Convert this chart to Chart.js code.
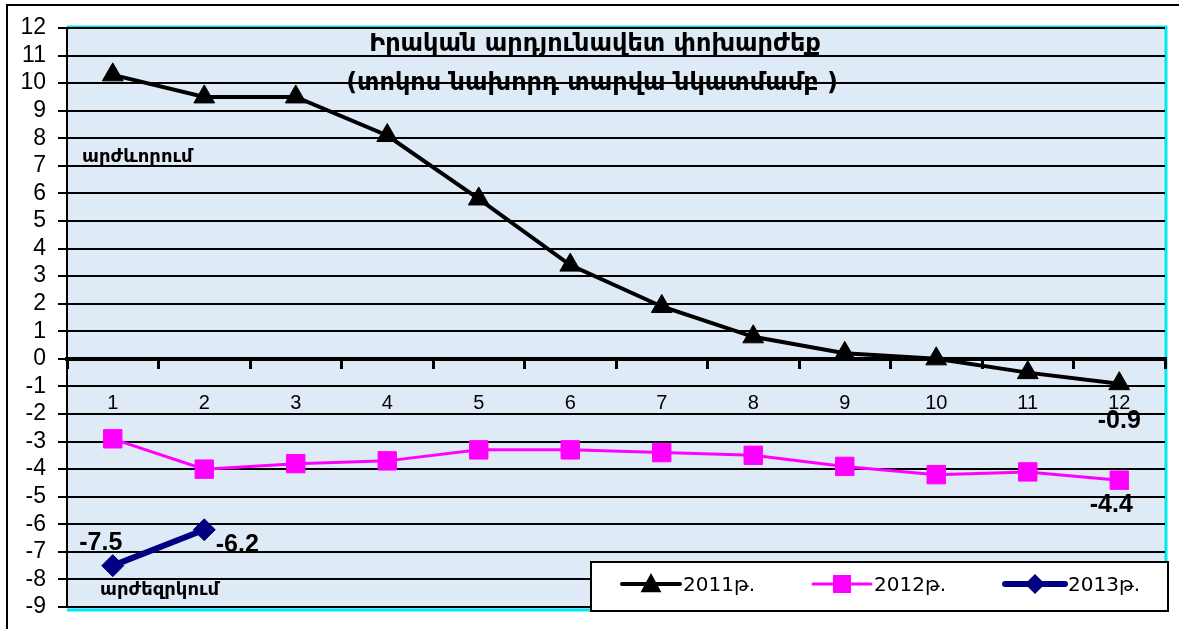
<!DOCTYPE html>
<html><head><meta charset="utf-8">
<script src="https://cdn.jsdelivr.net/npm/chart.js@4.4.1/dist/chart.umd.min.js"></script>
<style>html,body{margin:0;padding:0;background:#fff;overflow:hidden}canvas{display:block}</style>
</head><body>
<canvas id="c" width="1179" height="629"></canvas>
<script>
const categories = ['1','2','3','4','5','6','7','8','9','10','11','12'];
const values2011 = [10.3, 9.5, 9.5, 8.1, 5.8, 3.4, 1.9, 0.8, 0.2, 0.0, -0.5, -0.9];
const values2012 = [-2.9, -4.0, -3.8, -3.7, -3.3, -3.3, -3.4, -3.5, -3.9, -4.2, -4.1, -4.4];
const values2013 = [-7.5, -6.2];
const seriesNames = ['2011թ.', '2012թ.', '2013թ.'];
const titleLines = ['Իրական արդյունավետ փոխարժեք', '(տոկոս նախորդ տարվա նկատմամբ )'];
const upLabel = 'արժևորում';
const downLabel = 'արժեզրկում';
const yMin = -9, yMax = 12;

const FONT = '"Liberation Sans", Arial, "DejaVu Sans", sans-serif';
const ARM = '"DejaVu Sans", "Liberation Sans", sans-serif';

const bgPlugin = {
  id: 'bg',
  beforeDraw(chart) {
    const c = chart.ctx, a = chart.chartArea;
    c.save();
    c.fillStyle = '#fff';
    c.fillRect(0, 0, chart.width, chart.height);
    c.strokeStyle = '#000'; c.lineWidth = 2;
    c.strokeRect(7, 5, chart.width + 20, chart.height + 20);
    c.fillStyle = '#dfeaf7';
    c.fillRect(a.left, a.top, a.right - a.left, a.bottom - a.top + 3);
    c.strokeStyle = '#00e8f0'; c.lineWidth = 3;
    c.beginPath();
    c.moveTo(a.left, a.top - 1); c.lineTo(a.right + 1, a.top - 1);
    c.lineTo(a.right + 1, a.bottom + 3); c.lineTo(a.left, a.bottom + 3);
    c.stroke();
    c.restore();
  }
};

function marker(c, style, x, y, color, r) {
  c.fillStyle = color; c.strokeStyle = color;
  c.beginPath();
  if (style === 'triangle') {
    c.moveTo(x, y - r); c.lineTo(x + r * 0.95, y + r * 0.75); c.lineTo(x - r * 0.95, y + r * 0.75);
  } else if (style === 'rect') {
    c.rect(x - r, y - r, 2 * r, 2 * r);
  } else {
    c.moveTo(x, y - r); c.lineTo(x + r, y); c.lineTo(x, y + r); c.lineTo(x - r, y);
  }
  c.closePath(); c.fill();
}

const annotPlugin = {
  id: 'annot',
  afterDraw(chart) {
    const c = chart.ctx, a = chart.chartArea;
    const ys = chart.scales.y;
    c.save();
    c.fillStyle = '#000';
    c.textAlign = 'center'; c.textBaseline = 'middle';
    c.font = 'bold 24px ' + ARM;
    c.fillText(titleLines[0], 595, 45);
    c.fillText(titleLines[1], 592, 84);
    c.textAlign = 'left';
    c.font = 'bold 18px ' + ARM;
    c.fillText(upLabel, a.left + 15, ys.getPixelForValue(7.3));
    c.fillText(downLabel, a.left + 33, ys.getPixelForValue(-8.4));
    c.font = 'bold 25px ' + FONT;
    c.textAlign = 'center';
    const m0 = chart.getDatasetMeta(0).data, m1 = chart.getDatasetMeta(1).data, m2 = chart.getDatasetMeta(2).data;
    const p09 = m0[m0.length - 1]; c.fillText(values2011[values2011.length - 1].toFixed(1), p09.x, p09.y + 37);
    const p44 = m1[m1.length - 1]; c.fillText(values2012[values2012.length - 1].toFixed(1), p44.x - 8, p44.y + 25);
    c.fillText(values2013[0].toFixed(1), m2[0].x - 12, m2[0].y - 23);
    c.fillText(values2013[1].toFixed(1), m2[1].x + 33, m2[1].y + 15);
    const lx = 591, ly = 562, lw = 577, lh = 49;
    c.fillStyle = '#fff'; c.fillRect(lx, ly, lw, lh);
    c.strokeStyle = '#000'; c.lineWidth = 2; c.strokeRect(lx, ly, lw, lh);
    const items = [
      {x: 622, w: 58, color: '#000', lw: 4, style: 'triangle', r: 11},
      {x: 813, w: 58, color: '#ff00ff', lw: 3, style: 'rect', r: 9},
      {x: 1005, w: 60, color: '#000080', lw: 6, style: 'rectRot', r: 10}
    ];
    const cy = 584;
    items.forEach((it, i) => {
      c.strokeStyle = it.color; c.lineWidth = it.lw; c.lineCap = 'round';
      c.beginPath(); c.moveTo(it.x, cy); c.lineTo(it.x + it.w, cy); c.stroke();
      marker(c, it.style, it.x + it.w / 2, cy, it.color, it.r);
      c.fillStyle = '#000'; c.textAlign = 'left'; c.textBaseline = 'middle';
      c.font = '20px ' + ARM;
      c.fillText(seriesNames[i], it.x + it.w + 3, cy + 2);
    });
    c.restore();
  }
};

new Chart(document.getElementById('c'), {
  type: 'line',
  data: {
    labels: categories,
    datasets: [
      {label: seriesNames[0], data: values2011, borderColor: '#000', backgroundColor: '#000', borderWidth: 4,
       pointStyle: 'triangle', pointRadius: 12, pointBorderWidth: 1, tension: 0},
      {label: seriesNames[1], data: values2012, borderColor: '#ff00ff', backgroundColor: '#ff00ff', borderWidth: 3,
       pointStyle: 'rect', pointRadius: 13, pointBorderWidth: 1, tension: 0},
      {label: seriesNames[2], data: values2013, borderColor: '#000080', backgroundColor: '#000080', borderWidth: 6,
       pointStyle: 'rectRot', pointRadius: 11, pointBorderWidth: 1, tension: 0}
    ]
  },
  options: {
    responsive: false, animation: false, devicePixelRatio: 1,
    layout: {padding: {left: 0, top: 28, right: 14, bottom: 22}},
    plugins: {legend: {display: false}, title: {display: false}, tooltip: {enabled: false}},
    scales: {
      x: {
        type: 'category', position: {y: 0}, offset: true,
        grid: {offset: true, drawOnChartArea: false, drawTicks: true, tickLength: 8, color: '#000', lineWidth: 3},
        border: {display: true, color: '#000', width: 4},
        ticks: {font: {family: FONT, size: 20}, color: '#000', padding: 25, maxRotation: 0, autoSkip: false},
        afterFit(s) { s.height = 0; s.paddingLeft = 0; s.paddingRight = 0; }
      },
      y: {
        min: yMin, max: yMax,
        ticks: {stepSize: 1, autoSkip: false, font: {family: FONT, size: 23}, color: '#000', padding: 12},
        grid: {color: '#000', lineWidth: 2, tickLength: 9},
        border: {color: '#000', width: 2},
        afterFit(s) { s.width = 67; s.paddingTop = 0; s.paddingBottom = 0; }
      }
    }
  },
  plugins: [bgPlugin, annotPlugin]
});
</script>
</body></html>
